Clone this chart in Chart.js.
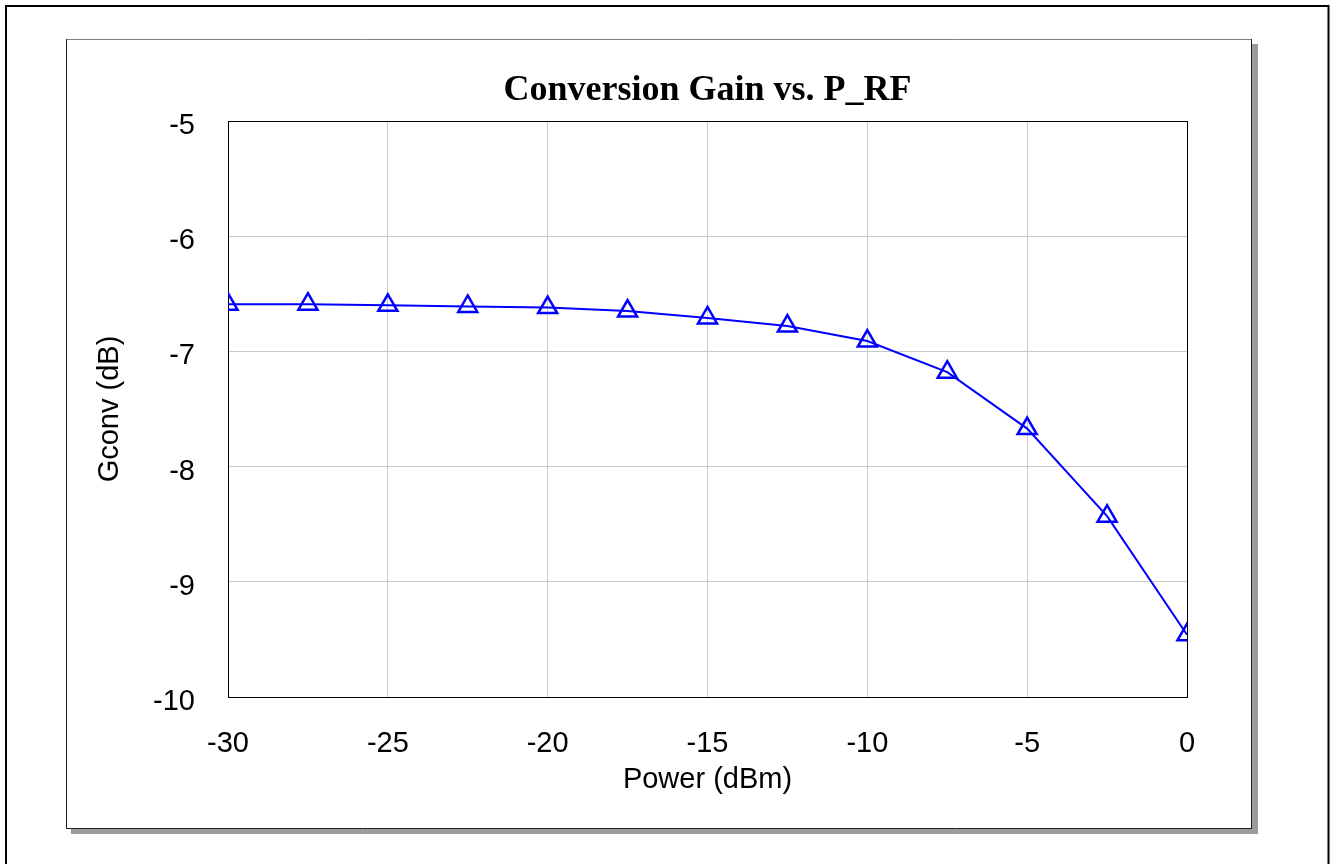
<!DOCTYPE html>
<html>
<head>
<meta charset="utf-8">
<script src="https://cdn.jsdelivr.net/npm/chart.js@4/dist/chart.umd.min.js"></script>
<style>
  html, body { margin: 0; padding: 0; background: #ffffff; }
  canvas { display: block; }
</style>
</head>
<body>
<canvas id="c" width="1332" height="864"></canvas>
<script>
// ---- data ----
const powerDbm = [-30, -27.5, -25, -22.5, -20, -17.5, -15, -12.5, -10, -7.5, -5, -2.5, 0];
const gconvDb  = [-6.59, -6.59, -6.60, -6.61, -6.62, -6.65, -6.71, -6.78, -6.91, -7.18, -7.67, -8.43, -9.46];
const xTickValues = [-30, -25, -20, -15, -10, -5, 0];
const yTickValues = [-10, -9, -8, -7, -6, -5];
const chartTitle = 'Conversion Gain vs. P_RF';
const xTitle = 'Power (dBm)';
const yTitle = 'Gconv (dB)';

const points = powerDbm.map((p, i) => ({ x: p, y: gconvDb[i] }));

const framePlugin = {
  id: 'frames',
  beforeDraw(chart) {
    const ctx = chart.ctx;
    ctx.save();
    ctx.fillStyle = '#ffffff';
    ctx.fillRect(0, 0, chart.width, chart.height);
    // outer frame (bottom edge lies outside the picture)
    ctx.strokeStyle = '#000000';
    ctx.lineWidth = 2;
    ctx.strokeRect(6, 6, 1322.5, 900);
    // panel shadow
    ctx.fillStyle = '#9c9c9c';
    ctx.fillRect(71, 829, 1187, 5);
    ctx.fillRect(1252, 44, 6, 790);
    // panel
    ctx.fillStyle = '#ffffff';
    ctx.fillRect(67, 40, 1184, 788);
    ctx.lineWidth = 1;
    ctx.strokeStyle = '#808080';
    ctx.beginPath(); ctx.moveTo(66, 39.5); ctx.lineTo(1252, 39.5); ctx.stroke();
    ctx.strokeStyle = '#222222';
    ctx.beginPath();
    ctx.moveTo(66.5, 39); ctx.lineTo(66.5, 829);
    ctx.moveTo(66, 828.5); ctx.lineTo(1252, 828.5);
    ctx.moveTo(1251.5, 39); ctx.lineTo(1251.5, 829);
    ctx.stroke();
    ctx.restore();
  },
  beforeDatasetsDraw(chart) {
    const { ctx, chartArea: a } = chart;
    ctx.save();
    ctx.strokeStyle = '#000000';
    ctx.lineWidth = 1;
    ctx.strokeRect(Math.round(a.left) + 0.5, Math.round(a.top) + 0.5,
                   Math.round(a.right - a.left), Math.round(a.bottom - a.top));
    ctx.restore();
  }
};

new Chart(document.getElementById('c'), {
  type: 'line',
  data: {
    datasets: [{
      data: points,
      borderColor: '#0000ff',
      borderWidth: 2,
      tension: 0,
      fill: false,
      clip: 0,
      pointStyle: 'triangle',
      pointRadius: 11,
      pointBorderWidth: 2.5,
      pointBorderColor: '#0000ff',
      pointBackgroundColor: 'rgba(0,0,0,0)'
    }]
  },
  plugins: [framePlugin],
  options: {
    responsive: false,
    animation: false,
    devicePixelRatio: 1,
    layout: { padding: { left: 0, right: 145, top: 0, bottom: 67 } },
    plugins: {
      legend: { display: false },
      tooltip: { enabled: false },
      title: {
        display: true,
        text: chartTitle,
        fullSize: false,
        color: '#000000',
        font: { family: '"Liberation Serif", "Times New Roman", serif', size: 36, weight: 'bold', lineHeight: 1.2 },
        padding: { top: 69, bottom: 8.8 }
      }
    },
    scales: {
      x: {
        type: 'linear',
        min: -30,
        max: 0,
        afterFit(scale) { scale.height = 100; },
        afterBuildTicks(scale) { scale.ticks = xTickValues.map(v => ({ value: v })); },
        ticks: {
          color: '#000000',
          padding: 30,
          autoSkip: false,
          maxRotation: 0,
          font: { family: '"Liberation Sans", Arial, sans-serif', size: 29, lineHeight: 1.2 }
        },
        grid: { color: '#c8c8c8', lineWidth: 1, drawTicks: false },
        border: { display: true, color: '#000000', width: 1 },
        title: {
          display: true,
          text: xTitle,
          color: '#000000',
          padding: { top: 0, bottom: 0 },
          font: { family: '"Liberation Sans", Arial, sans-serif', size: 29, lineHeight: 1.2 }
        }
      },
      y: {
        type: 'linear',
        min: -10,
        max: -5,
        afterFit(scale) { scale.width = 228; },
        afterBuildTicks(scale) { scale.ticks = yTickValues.map(v => ({ value: v })); },
        ticks: {
          color: '#000000',
          padding: 33,
          labelOffset: 5,
          font: { family: '"Liberation Sans", Arial, sans-serif', size: 29, lineHeight: 1.2 }
        },
        grid: { color: '#c8c8c8', lineWidth: 1, drawTicks: false },
        border: { display: true, color: '#000000', width: 1 },
        title: {
          display: true,
          text: yTitle,
          color: '#000000',
          padding: { top: 93, bottom: 0 },
          font: { family: '"Liberation Sans", Arial, sans-serif', size: 29, lineHeight: 1.2 }
        }
      }
    }
  }
});
</script>
</body>
</html>
